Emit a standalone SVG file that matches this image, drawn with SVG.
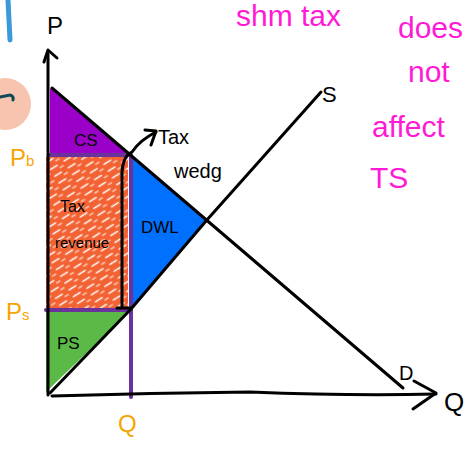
<svg xmlns="http://www.w3.org/2000/svg" width="474" height="450" viewBox="0 0 474 450">
<defs>
<style>
.ink{fill:none;stroke:#000;stroke-width:3;stroke-linecap:round;stroke-linejoin:round}
.pl{fill:none;stroke:#6a339c;stroke-width:4;stroke-linecap:round}
.lbl{font-family:"Liberation Sans",Arial,sans-serif;fill:#000}
.or{font-family:"Liberation Sans",Arial,sans-serif;fill:#f7a400;font-size:24px}
.mg{font-family:"Liberation Sans",Arial,sans-serif;fill:#ff1ad6;font-size:30px}
</style>
<pattern id="hatch" width="16" height="8" patternUnits="userSpaceOnUse" patternTransform="rotate(-32)">
<rect width="16" height="8" fill="#f26232"/>
<line x1="1" y1="2.5" x2="9" y2="2.5" stroke="#fff" stroke-width="1.4" stroke-linecap="round"/>
<line x1="10" y1="6" x2="14" y2="6" stroke="#fff" stroke-width="1" stroke-linecap="round"/>
</pattern>
</defs>
<rect width="474" height="450" fill="#fff"/>
<g id="decor">
<path d="M8,0 L10,40" stroke="#3a9ad9" stroke-width="5" stroke-linecap="round" fill="none"/>
<circle cx="5" cy="104" r="26" fill="#f7c4b0"/>
<path d="M0,97 L10,95 Q14,96 13,100" stroke="#0c4a5a" stroke-width="3" fill="none" stroke-linecap="round"/>
</g>
<g id="cs">
<polygon points="50,88 50,155 130,155" fill="#9b00c9"/>
<text class="lbl" x="74" y="146" font-size="17">CS</text>
</g>
<g id="tax-revenue">
<rect x="46" y="157" width="82" height="151" fill="url(#hatch)"/>
<text class="lbl" x="60" y="212" font-size="16">Tax</text>
<text class="lbl" x="55" y="248" font-size="15">revenue</text>
</g>
<g id="dwl">
<polygon points="131,156 131,308 206,221" fill="#0070ff"/>
<text class="lbl" x="141" y="233" font-size="17">DWL</text>
</g>
<g id="ps">
<polygon points="46,311 46,392 130,311" fill="#5ab947"/>
<text class="lbl" x="57" y="349" font-size="17">PS</text>
</g>
<g id="connectors">
<line class="pl" x1="50" y1="155" x2="131" y2="155"/>
<line class="pl" x1="46" y1="310" x2="131" y2="310"/>
<line class="pl" x1="131" y1="157" x2="131" y2="397"/>
<path class="ink" d="M48,395 L48,54"/>
<path class="ink" d="M44,62 L48,50 L57,58"/>
<path class="ink" d="M52,396 Q150,393 250,392 Q350,396 436,394"/>
<path class="ink" d="M414,381 L436,393 L413,409"/>
<line class="ink" x1="52" y1="88" x2="403" y2="388"/>
<path class="ink" d="M50,393 L131,309 L206,221 L321,92"/>
<path class="ink" d="M122,306 L122,172 Q123,156 132,152 Q140,140 156,132"/>
<path class="ink" d="M145,130 L156,131 L151,145"/>
<line class="ink" x1="117" y1="308" x2="131" y2="308"/>
</g>
<g id="labels">
<text class="lbl" x="47" y="34" font-size="24">P</text>
<text class="lbl" x="322" y="102" font-size="22">S</text>
<text class="lbl" x="399" y="380" font-size="20">D</text>
<text class="lbl" x="444" y="411" font-size="26">Q</text>
<text class="lbl" x="158" y="144" font-size="20">Tax</text>
<text class="lbl" x="174" y="178" font-size="20">wedg</text>
<text class="or" x="10" y="166">P<tspan font-size="15">b</tspan></text>
<text class="or" x="6" y="320">P<tspan font-size="15">s</tspan></text>
<text class="or" x="118" y="432">Q</text>
</g>
<g id="note">
<text class="mg" x="236" y="26">shm tax</text>
<text class="mg" x="398" y="38">does</text>
<text class="mg" x="408" y="82">not</text>
<text class="mg" x="372" y="137">affect</text>
<text class="mg" x="370" y="188">TS</text>
</g>
</svg>
